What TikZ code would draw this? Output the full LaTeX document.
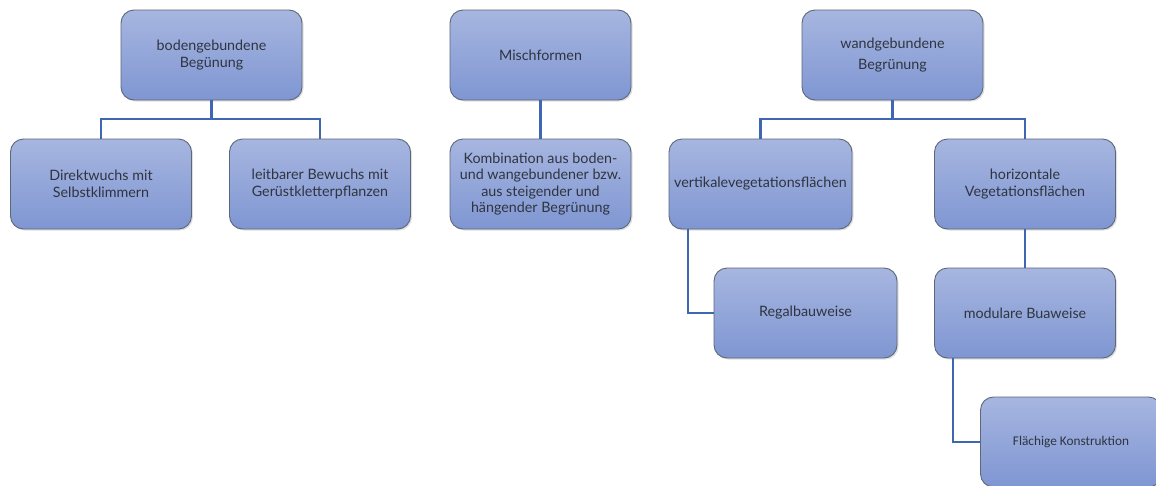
\documentclass[tikz,border=0pt]{standalone}
\usepackage{fontspec}
\setmainfont{Lato}
\newfontfamily\calfont{Carlito}
\usetikzlibrary{shadows}
\definecolor{linkblue}{HTML}{3F66B0}
\definecolor{boxtop}{HTML}{A7B6E0}
\definecolor{boxbot}{HTML}{7F96D2}
\definecolor{boxline}{HTML}{5C6778}
\definecolor{txt}{HTML}{2F3440}
\tikzset{
  box/.style={draw=boxline, line width=0.9pt, rounded corners=13pt,
    top color=boxtop, bottom color=boxbot, minimum width=181pt, minimum height=90pt,
    align=center, text=txt, inner sep=2pt,
    font=\fontsize{14.3}{16.5}\selectfont,
    drop shadow={shadow xshift=1.5pt, shadow yshift=-1.5pt, opacity=0.25}},
  link/.style={draw=linkblue, line width=2.8pt}
}
\begin{document}
\begin{tikzpicture}[x=1pt,y=-1pt]
\useasboundingbox (0,0) rectangle (1156,485);
\clip (0,0) rectangle (1156,485);
% boxes (centers)
\node[box] (boden) at (211.5,55) {bodengebundene\\Begünung};
\node[box] (direkt) at (101,184) {Direktwuchs mit\\Selbstklimmern};
\node[box] (leit) at (320,184) {leitbarer Bewuchs mit\\Gerüstkletterpflanzen};
\node[box] (misch) at (540.5,55) {Mischformen};
\node[box] (kombi) at (540.5,184) {Kombination aus boden-\\und wangebundener bzw.\\aus steigender und\\hängender Begrünung};
\node[box] (wand) at (892.5,55) {wandgebundene\\[4pt]Begrünung};
\node[box, minimum width=183pt] (vert) at (760.5,184) {vertikalevegetationsflächen};
\node[box] (hori) at (1025,184) {horizontale\\Vegetationsflächen};
\node[box, minimum width=183pt] (regal) at (805.5,313) {Regalbauweise};
\node[box] (modul) at (1025,313) {modulare Buaweise};
\node[box, font=\calfont\fontsize{13.3}{15}\selectfont] (flach) at (1071,442) {Flächige Konstruktion};
% connectors
\coordinate (bj) at (211.5,119);
\coordinate (wj) at (892.5,119);
\draw[link] (boden.south) -- (bj) -| (direkt.north);
\draw[link] (bj) -| (leit.north);
\draw[link] (misch.south) -- (kombi.north);
\draw[link] (wand.south) -- (wj) -| (vert.north);
\draw[link] (wj) -| (hori.north);
\draw[link] (688,229) |- (regal.west);
\draw[link] (hori.south) -- (modul.north);
\draw[link] (953,358) |- (flach.west);
\end{tikzpicture}
\end{document}
